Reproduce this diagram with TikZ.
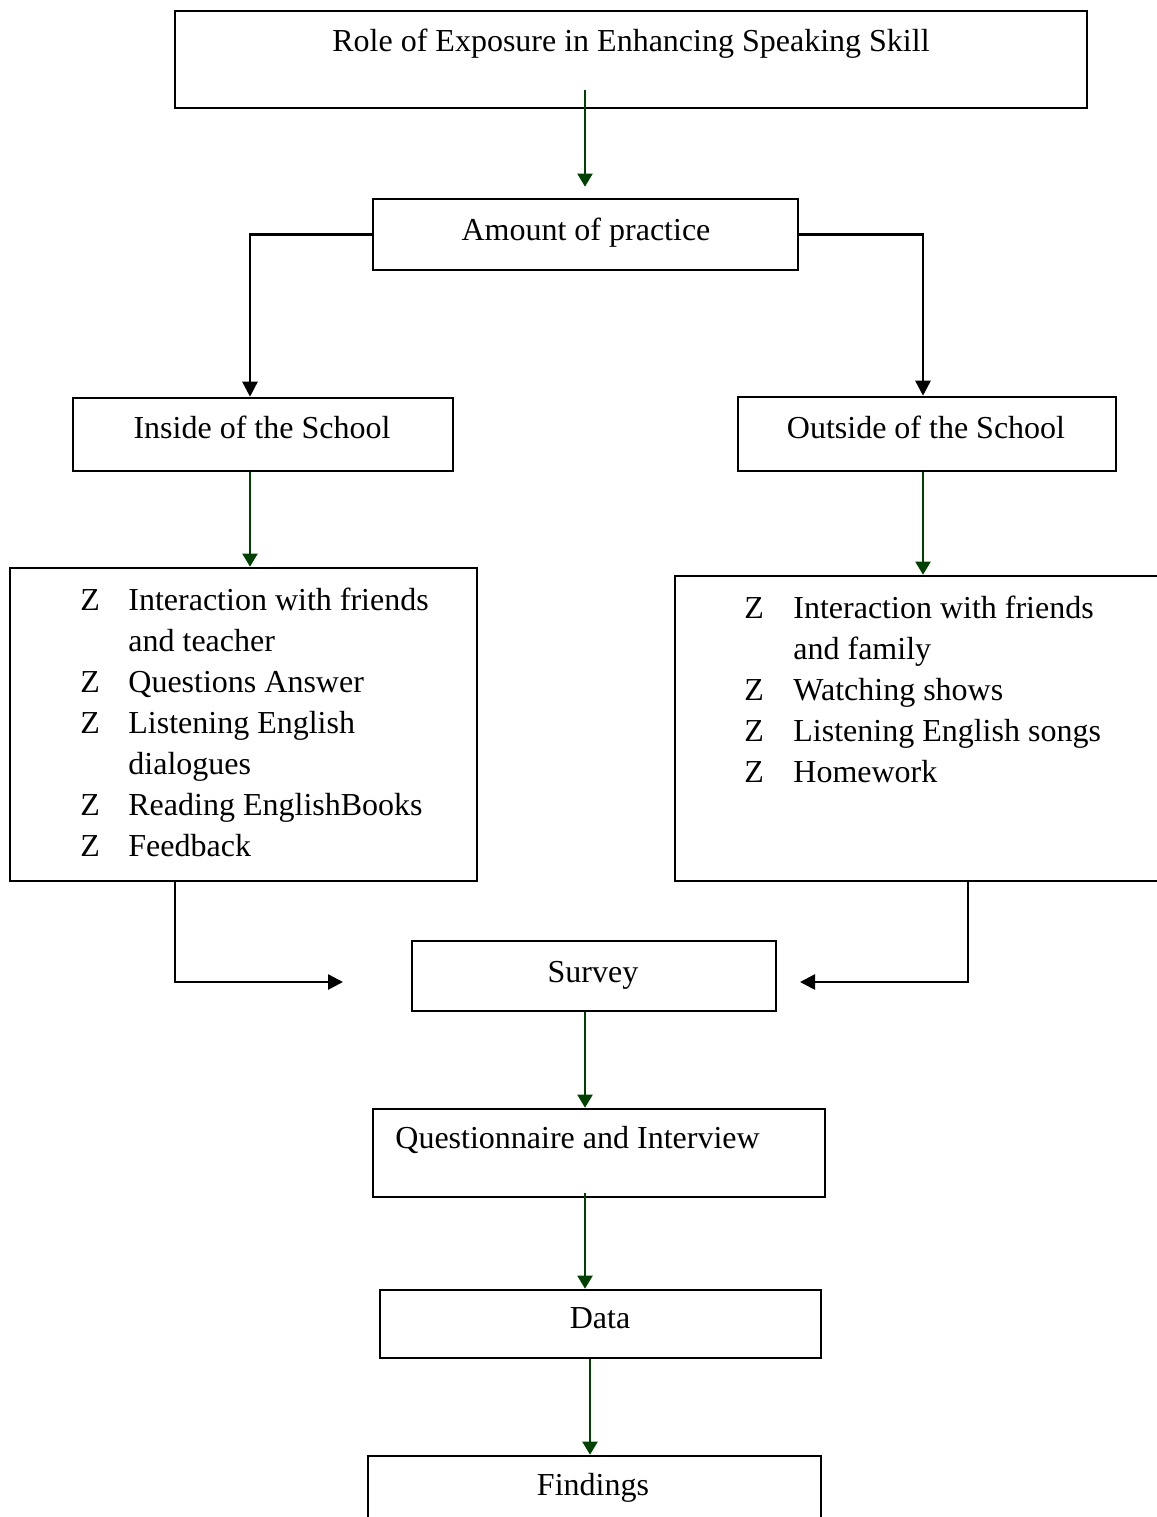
\documentclass[tikz,border=0pt]{standalone}
\usepackage{fontspec}
\setmainfont{Liberation Serif}
\usetikzlibrary{arrows.meta}
\definecolor{dgreen}{RGB}{0,66,0}
\begin{document}
\begin{tikzpicture}[x=0.5pt,y=-0.5pt,
  font=\fontsize{16}{20.5}\selectfont,
  box/.style={draw=black,line width=1.3pt,inner sep=0pt,fill=none},
  txt/.style={inner sep=0pt,anchor=base},
  garrow/.style={draw=dgreen,line width=1pt,-{Triangle[width=7.5pt,length=6.5pt]}},
  barrow/.style={draw=black,line width=1.3pt,-{Triangle[width=7.5pt,length=7.5pt]}}]
\useasboundingbox (0,0) rectangle (1157,1517);
% boxes
\node[box,minimum width=456pt,minimum height=48.5pt] (top) at (631,59.5) {};
\node[box,minimum width=212.5pt,minimum height=35.5pt] (amount) at (585.5,234.5) {};
\node[box,minimum width=190pt,minimum height=36.5pt] (inside) at (263,434.5) {};
\node[box,minimum width=189pt,minimum height=37pt] (outside) at (927,434) {};
\node[box,minimum width=233.5pt,minimum height=156.5pt] (leftlist) at (243.5,724.5) {};
\node[box,minimum width=247.5pt,minimum height=152.5pt] (rightlist) at (922.5,728.5) {};
\node[box,minimum width=182pt,minimum height=35pt] (survey) at (594,976) {};
\node[box,minimum width=226pt,minimum height=44pt] (quest) at (599,1153) {};
\node[box,minimum width=220.5pt,minimum height=34pt] (data) at (600.5,1324) {};
\node[box,minimum width=226.5pt,minimum height=42pt] (findings) at (594.5,1498) {};
% texts
\node[txt] (toptxt) at (631,51) {Role of Exposure in Enhancing Speaking Skill};
\node[txt] (amounttxt) at (586,240) {Amount of practice};
\node[txt] (insidetxt) at (262,438) {Inside of the School};
\node[txt] (outsidetxt) at (926,438) {Outside of the School};
\node[txt] (surveytxt) at (593,982) {Survey};
\node[txt,anchor=base west] (questtxt) at (395,1148) {Questionnaire and Interview};
\node[txt] (datatxt) at (600,1328) {Data};
\node[txt] (findingstxt) at (593,1495) {Findings};
\node[inner sep=0pt,anchor=base west] (leftitems) at (80,610) {%
\begin{tabular}[t]{@{}p{24pt}@{}l@{}}
Z & Interaction with friends\\
  & and teacher\\
Z & Questions Answer\\
Z & Listening English\\
  & dialogues\\
Z & Reading EnglishBooks\\
Z & Feedback
\end{tabular}};
\node[inner sep=0pt,anchor=base west] (rightitems) at (744,618) {%
\begin{tabular}[t]{@{}p{24.5pt}@{}l@{}}
Z & Interaction with friends\\
  & and family\\
Z & Watching shows\\
Z & Listening English songs\\
Z & Homework
\end{tabular}};
% helper coordinates
\coordinate (c1) at (585,90);
\coordinate (lx) at (250,0);
\coordinate (rx) at (923,0);
\coordinate (llx) at (175,0);
\coordinate (rrx) at (968,0);
\coordinate (mx) at (585,0);
\coordinate (dx) at (590,0);
\coordinate (lt) at (343,982);
\coordinate (rt) at (800,982);
% connectors
\draw[garrow,shorten >=5.5pt] (c1) -- (amount.north -| c1);
\draw[barrow] (amount.west) -| (inside.north -| lx);
\draw[barrow] (amount.east) -| (outside.north -| rx);
\draw[garrow] (inside.south -| lx) -- (leftlist.north -| lx);
\draw[garrow] (outside.south -| rx) -- (rightlist.north -| rx);
\draw[barrow] (leftlist.south -| llx) |- (lt);
\draw[barrow] (rightlist.south -| rrx) |- (rt);
\draw[garrow] (survey.south -| mx) -- (quest.north -| mx);
\draw[garrow] ([yshift=2.5pt]quest.south -| mx) -- (data.north -| mx);
\draw[garrow] (data.south -| dx) -- (findings.north -| dx);
\end{tikzpicture}
\end{document}
